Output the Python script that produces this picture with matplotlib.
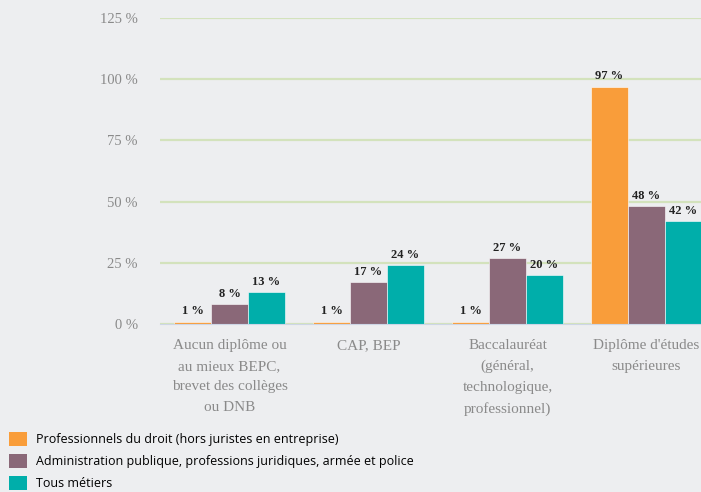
import matplotlib.pyplot as plt
import numpy as np
from matplotlib.patches import Patch

categories = ["Aucun diplôme ou\nau mieux BEPC,\nbrevet des collèges\nou DNB",
              "CAP, BEP",
              "Baccalauréat\n(général,\ntechnologique,\nprofessionnel)",
              "Diplôme d'études\nsupérieures"]
series = ["Professionnels du droit (hors juristes en entreprise)",
          "Administration publique, professions juridiques, armée et police",
          "Tous métiers"]
droit = [1, 1, 1, 97]
admin = [8, 17, 27, 48]
tous = [13, 24, 20, 42]
yticks = [0, 25, 50, 75, 100, 125]

colors = ["#f99d3a", "#8a6878", "#00aeaa"]
bg = "#edeef0"

fig = plt.figure(figsize=(7.01, 4.92), dpi=100, facecolor=bg)
ax = fig.add_axes([160 / 701, 168 / 492, 541 / 701, 306 / 492], facecolor=bg)

x = np.arange(len(categories))
w = 37 / 139
for i, (vals, c) in enumerate(zip([droit, admin, tous], colors)):
    pos = x + (i - 1) * w
    ax.bar(pos, vals, width=w, color=c, edgecolor="white", linewidth=0.4, zorder=3)
    for p, v in zip(pos, vals):
        ax.annotate(f"{v} %", (p, v), xytext=(0, 3), textcoords="offset points",
                    ha="center", va="bottom", fontsize=9, fontweight="bold",
                    family="Liberation Serif", color="#222222", zorder=4)

ax.set_xlim(-0.5, -0.5 + 541 / 139)
ax.set_ylim(0, 125)
ax.set_yticks(yticks)
ax.set_yticklabels([f"{t} %" for t in yticks], family="Liberation Serif",
                   fontsize=10.5, color="#8a8a8a")
ax.set_xticks(x)
ax.set_xticklabels(categories, family="Liberation Serif", fontsize=11,
                   color="#8a8a8a", linespacing=1.75, va="top")
ax.tick_params(axis="y", length=0, pad=16)
ax.tick_params(axis="x", length=0, pad=11)
ax.grid(axis="y", color="#d3e2bc", linewidth=1.6, zorder=0)
for s in ["top", "right", "left"]:
    ax.spines[s].set_visible(False)
ax.spines["bottom"].set_color("#cdd6e6")
ax.spines["bottom"].set_zorder(5)

handles = [Patch(facecolor=c, edgecolor="none") for c in colors]
fig.legend(handles, series, loc="lower left", bbox_to_anchor=(0.001, -0.014),
           frameon=False, handlelength=1.4, handleheight=1.4,
           handletextpad=0.7, labelspacing=0.6, borderaxespad=0.3,
           prop={"family": "Open Sans", "size": 9})

fig.savefig("out.png", dpi=100, facecolor=bg)
